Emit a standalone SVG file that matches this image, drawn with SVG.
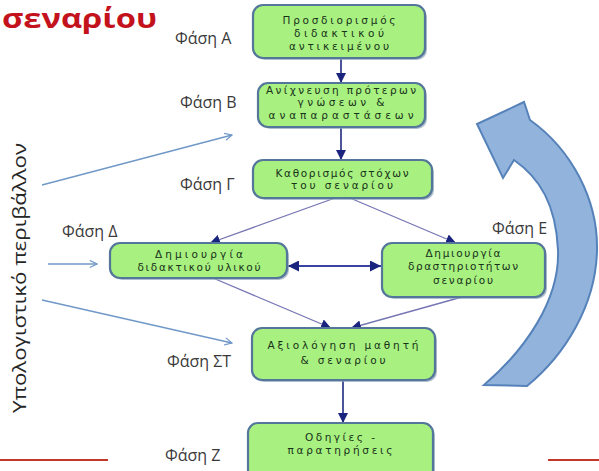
<svg xmlns="http://www.w3.org/2000/svg" width="599" height="471" viewBox="0 0 599 471">
<style>
.box{fill:#a8f07f;stroke:#53769a;stroke-width:2.2}
.shadow{fill:#8ea4b8;opacity:0.7}
.nt{font-family:"DejaVu Sans",Verdana,sans-serif;font-size:10.5px;fill:#17321b;text-anchor:middle}
.ph{font-family:"Open Sans",sans-serif;font-size:16px;fill:#3a3a3a}
.dark{stroke:#1e2a80;stroke-width:1.6;fill:none}
.diag{stroke:#7676b4;stroke-width:1.3;fill:none}
.env{stroke:#6f98c8;stroke-width:1.3;fill:none}
</style>
<defs>
<marker id="ah" viewBox="0 0 10 10" refX="10" refY="5" markerWidth="10" markerHeight="10" markerUnits="userSpaceOnUse" orient="auto">
<path d="M0,0 L10,5 L0,10 z" fill="#1a237e"/>
</marker>
<marker id="ahs" viewBox="0 0 10 10" refX="10" refY="5" markerWidth="11" markerHeight="11" markerUnits="userSpaceOnUse" orient="auto-start-reverse">
<path d="M0,0 L10,5 L0,10 z" fill="#1a237e"/>
</marker>
<marker id="open" viewBox="0 0 10 10" refX="9" refY="5" markerWidth="9" markerHeight="9" markerUnits="userSpaceOnUse" orient="auto">
<path d="M1,1 L9,5 L1,9" fill="none" stroke="#6f98c8" stroke-width="1.3"/>
</marker>
</defs>

<rect width="599" height="471" fill="#ffffff"/>

<text x="2" y="28" font-family="'Open Sans',sans-serif" font-weight="bold" font-size="27" fill="#c4121c" textLength="155" lengthAdjust="spacingAndGlyphs">σεναρίου</text>

<text transform="translate(26,278) rotate(-90)" font-family="'Open Sans',sans-serif" font-size="19" fill="#262626" text-anchor="middle" textLength="270" lengthAdjust="spacingAndGlyphs">Υπολογιστικό περιβάλλον</text>

<g id="phase-labels">
<text class="ph" x="175" y="44">Φάση Α</text>
<text class="ph" x="180" y="108">Φάση Β</text>
<text class="ph" x="180" y="190">Φάση Γ</text>
<text class="ph" x="62" y="237">Φάση Δ</text>
<text class="ph" x="492" y="234">Φάση Ε</text>
<text class="ph" x="167" y="367">Φάση ΣΤ</text>
<text class="ph" x="165" y="461">Φάση Ζ</text>
</g>

<g id="cycle-arrow">
<path d="M484,385 C525,350 560,300 558,250 C556,205 540,178 514,160 L503,178 L477,124 L524,102 L530,120 C572,150 598,200 597,250 C596,305 565,355 527,386 Z" fill="#92b3dc" stroke="#5682ba" stroke-width="2"/>
</g>

<g id="connectors">
<line class="dark" x1="341" y1="58" x2="341" y2="83" marker-end="url(#ah)"/>
<line class="dark" x1="341" y1="127" x2="341" y2="160" marker-end="url(#ah)"/>
<line class="dark" x1="343" y1="381" x2="343" y2="423" marker-end="url(#ah)"/>
<line class="diag" x1="335" y1="198" x2="210" y2="243" marker-end="url(#ah)"/>
<line class="diag" x1="350" y1="198" x2="456" y2="243" marker-end="url(#ah)"/>
<line class="diag" x1="213" y1="278" x2="331" y2="328" marker-end="url(#ah)"/>
<line class="diag" x1="462" y1="297" x2="351" y2="328" marker-end="url(#ah)"/>
<line x1="288" y1="266" x2="381" y2="266" stroke="#3a44a0" stroke-width="2" marker-start="url(#ahs)" marker-end="url(#ahs)"/>
<line class="env" x1="42" y1="185" x2="232" y2="135" marker-end="url(#open)"/>
<line class="env" x1="48" y1="264" x2="97" y2="264" marker-end="url(#open)"/>
<line class="env" x1="42" y1="300" x2="232" y2="343" marker-end="url(#open)"/>
</g>

<g id="node-A">
<rect class="shadow" x="255" y="7" width="172" height="53" rx="10"/>
<rect class="box" x="253" y="5" width="172" height="53" rx="10"/>
<text class="nt" x="339" y="24" textLength="113">Προσδιορισμός</text>
<text class="nt" x="339" y="37" textLength="90">διδακτικού</text>
<text class="nt" x="339" y="50" textLength="100">αντικειμένου</text>
</g>

<g id="node-B">
<rect class="shadow" x="260" y="85" width="167" height="44" rx="10"/>
<rect class="box" x="258" y="83" width="167" height="44" rx="10"/>
<text class="nt" x="341" y="93.5" textLength="150">Ανίχνευση πρότερων</text>
<text class="nt" x="341" y="106" textLength="87">γνώσεων &amp;</text>
<text class="nt" x="341" y="118.5" textLength="145">αναπαραστάσεων</text>
</g>

<g id="node-G">
<rect class="shadow" x="255" y="162" width="179" height="38" rx="10"/>
<rect class="box" x="253" y="160" width="179" height="38" rx="10"/>
<text class="nt" x="342" y="176.5" textLength="133">Καθορισμός στόχων</text>
<text class="nt" x="342" y="189" textLength="102">του σεναρίου</text>
</g>

<g id="node-D">
<rect class="shadow" x="112" y="245" width="177" height="35" rx="10"/>
<rect class="box" x="110" y="243" width="177" height="35" rx="10"/>
<text class="nt" x="199" y="257.5" textLength="88">Δημιουργία</text>
<text class="nt" x="199" y="270.5" textLength="123">διδακτικού υλικού</text>
</g>

<g id="node-E">
<rect class="shadow" x="384" y="245" width="163" height="54" rx="10"/>
<rect class="box" x="382" y="243" width="163" height="54" rx="10"/>
<text class="nt" x="463" y="256.5" textLength="75">Δημιουργία</text>
<text class="nt" x="463" y="270" textLength="110">δραστηριοτήτων</text>
<text class="nt" x="463" y="283.5" textLength="60">σεναρίου</text>
</g>

<g id="node-ST">
<rect class="shadow" x="254" y="330" width="183" height="52" rx="10"/>
<rect class="box" x="252" y="328" width="183" height="52" rx="10"/>
<text class="nt" x="343" y="349" textLength="151">Αξιολόγηση μαθητή</text>
<text class="nt" x="343" y="364" textLength="85">&amp; σεναρίου</text>
</g>

<g id="node-Z">
<rect class="shadow" x="250" y="425" width="185" height="60" rx="10"/>
<rect class="box" x="248" y="423" width="185" height="60" rx="10"/>
<text class="nt" x="340" y="440.5" textLength="70">Οδηγίες -</text>
<text class="nt" x="340" y="453.5" textLength="105">παρατηρήσεις</text>
</g>

<g id="rules">
<line x1="0" y1="460" x2="108" y2="460" stroke="#c0392b" stroke-width="2"/>
<line x1="548" y1="460" x2="599" y2="460" stroke="#c0392b" stroke-width="2"/>
</g>
</svg>
